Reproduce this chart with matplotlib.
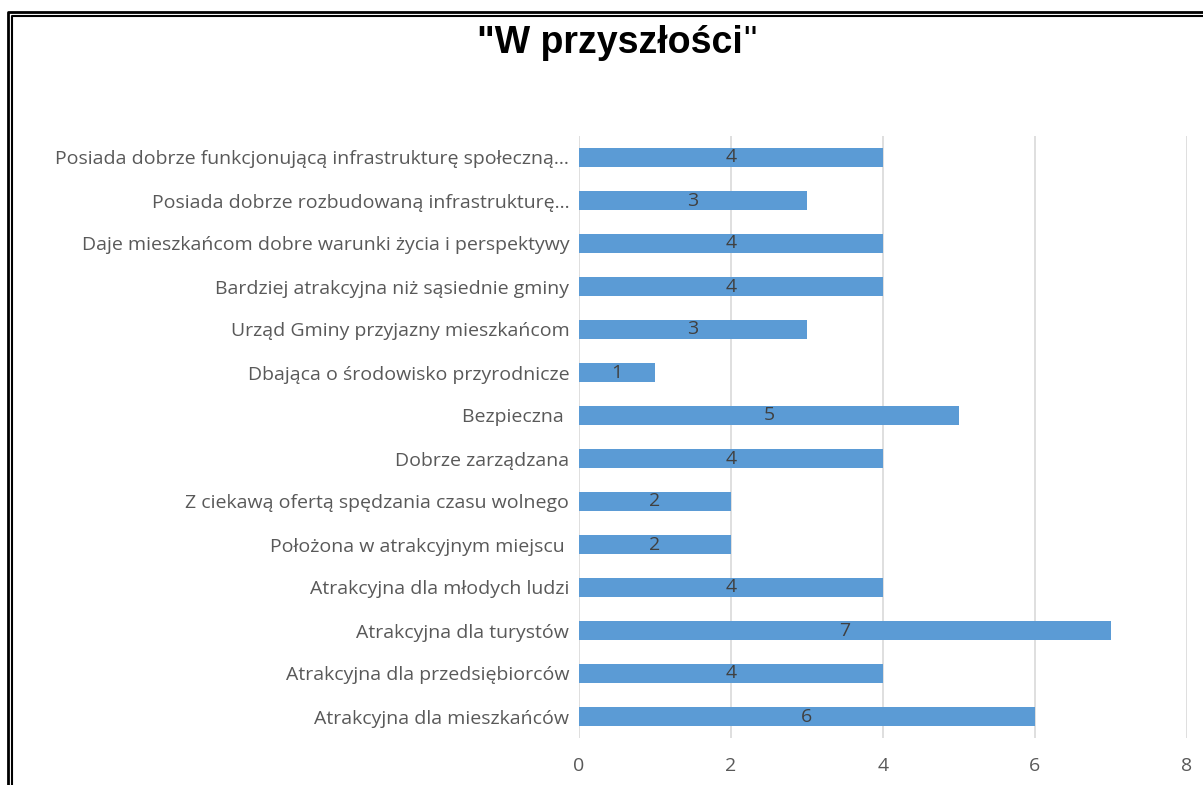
import matplotlib.pyplot as plt
from matplotlib.lines import Line2D

categories = [
    'Atrakcyjna dla mieszkańców',
    'Atrakcyjna dla przedsiębiorców',
    'Atrakcyjna dla turystów',
    'Atrakcyjna dla młodych ludzi',
    'Położona w atrakcyjnym miejscu ',
    'Z ciekawą ofertą spędzania czasu wolnego',
    'Dobrze zarządzana',
    'Bezpieczna ',
    'Dbająca o środowisko przyrodnicze',
    'Urząd Gminy przyjazny mieszkańcom',
    'Bardziej atrakcyjna niż sąsiednie gminy',
    'Daje mieszkańcom dobre warunki życia i perspektywy',
    'Posiada dobrze rozbudowaną infrastrukturę...',
    'Posiada dobrze funkcjonującą infrastrukturę społeczną...',
]
values = [6, 4, 7, 4, 2, 2, 4, 5, 1, 3, 4, 4, 3, 4]
xticks = [0, 2, 4, 6, 8]

W, H = 1203, 785
fig = plt.figure(figsize=(W / 100, H / 100), dpi=100)
ax = fig.add_axes([579 / W, 1 - 738 / H, (1187 - 579) / W, (738 - 136) / H])

lab_font = 'Open Sans'
ypos = list(range(len(categories)))
ax.barh(ypos, values, height=0.42, color='#5B9BD5', zorder=3)
for y, v in zip(ypos, values):
    ax.text(v / 2, y, str(v), ha='center', va='center', fontsize=14,
            color='#404040', family=lab_font, zorder=4)

ax.set_xlim(0, 8)
ax.set_ylim(-0.5, len(categories) - 0.5)
ax.set_xticks(xticks)
ax.set_yticks(ypos)
ax.set_yticklabels(categories, fontsize=14, color='#595959', family=lab_font)
ax.set_xticklabels([str(t) for t in xticks], fontsize=14, color='#595959', family=lab_font)
ax.tick_params(axis='both', length=0)
ax.tick_params(axis='y', pad=7)
ax.tick_params(axis='x', pad=14)
ax.grid(axis='x', color='#D9D9D9', linewidth=1.2, zorder=0)
for s in ax.spines.values():
    s.set_visible(False)

# title: bold text with a thin closing quote
tx = 743 / W
fig.text(tx, 1 - 53 / H, '"W przyszłości', ha='right', va='baseline', fontsize=27,
         fontweight='bold', family='Liberation Sans', color='black')
fig.text(tx, 1 - 53 / H, '"', ha='left', va='baseline', fontsize=27,
         family='Liberation Sans', color='black')

# double frame on top and left
for off, lw in [(0, 2.0), (3.5, 1.5)]:
    x0 = (8 + off) / W
    y0 = 1 - (12 + off) / H
    fig.add_artist(Line2D([x0, x0, 1], [0, y0, y0], color='black', linewidth=lw))

fig.savefig('out.png', dpi=100)
